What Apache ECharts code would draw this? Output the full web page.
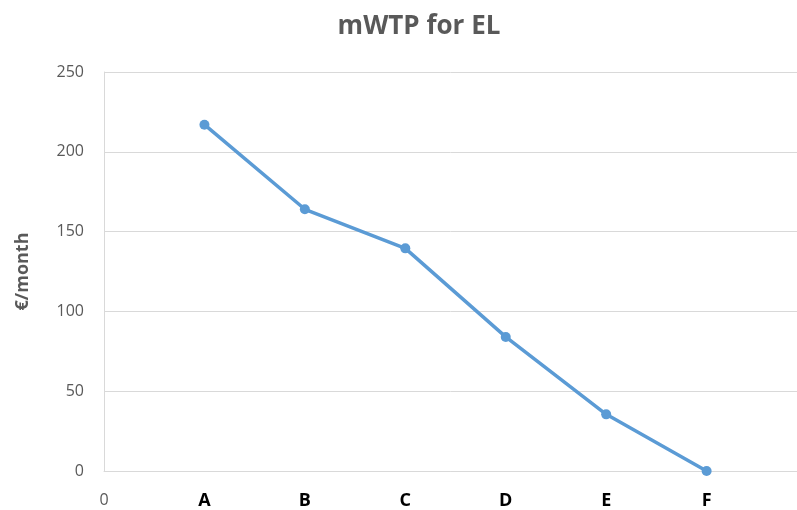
<!DOCTYPE html>
<html>
<head>
<meta charset="utf-8">
<script src="https://cdn.jsdelivr.net/npm/echarts@6/dist/echarts.min.js"></script>
<style>
  html, body { margin: 0; padding: 0; background: #fff; }
  #main { width: 797px; height: 510px; }
</style>
</head>
<body>
<div id="main"></div>
<script>
var categories = ['A', 'B', 'C', 'D', 'E', 'F'];
var mwtp = [217, 164, 139.5, 84, 35.5, 0];
var tickLabels = ['0', 'A', 'B', 'C', 'D', 'E', 'F'];

var chartDom = document.getElementById('main');
var myChart = echarts.init(chartDom);
var option;

var points = categories.map(function (c, i) {
    return [i + 1, mwtp[i]];
});

option = {
    animation: false,
    textStyle: { fontFamily: 'Open Sans' },
    title: {
        text: 'mWTP for EL',
        left: 414,
        textAlign: 'center',
        top: 9,
        textStyle: {
            fontSize: 26,
            fontWeight: 'bold',
            color: '#595959'
        }
    },
    grid: {
        left: 104,
        right: 0,
        top: 72,
        bottom: 37
    },
    xAxis: {
        type: 'value',
        min: 0,
        max: 6.9,
        interval: 1,
        splitLine: { show: false },
        axisTick: { show: false },
        axisLine: { lineStyle: { color: '#d9d9d9', width: 1 } },
        axisLabel: {
            margin: 21,
            showMaxLabel: false,
            formatter: function (v) {
                if (v !== Math.round(v) || !tickLabels[v]) return '';
                return v === 0 ? '{z|' + tickLabels[v] + '}' : '{b|' + tickLabels[v] + '}';
            },
            rich: {
                z: { fontSize: 16, color: '#595959', fontFamily: 'Open Sans', padding: [0, 0, 6, 0] },
                b: { fontSize: 18, fontWeight: 'bold', color: '#000000', fontFamily: 'Open Sans' }
            }
        }
    },
    yAxis: {
        type: 'value',
        min: 0,
        max: 250,
        interval: 50,
        name: '€/month',
        nameLocation: 'middle',
        nameRotate: 90,
        nameGap: 72,
        nameTextStyle: {
            fontSize: 18,
            fontWeight: 'bold',
            color: '#595959'
        },
        axisLine: { show: true, lineStyle: { color: '#d9d9d9', width: 1 } },
        axisTick: { show: false },
        axisLabel: {
            fontSize: 16,
            color: '#595959',
            margin: 20
        },
        splitLine: { lineStyle: { color: '#d9d9d9', width: 1 } }
    },
    series: [
        {
            name: 'mWTP',
            type: 'line',
            data: points,
            symbol: 'circle',
            symbolSize: 10,
            lineStyle: { color: '#5b9bd5', width: 3.5 },
            itemStyle: { color: '#5b9bd5' }
        }
    ]
};

option && myChart.setOption(option);
</script>
</body>
</html>
